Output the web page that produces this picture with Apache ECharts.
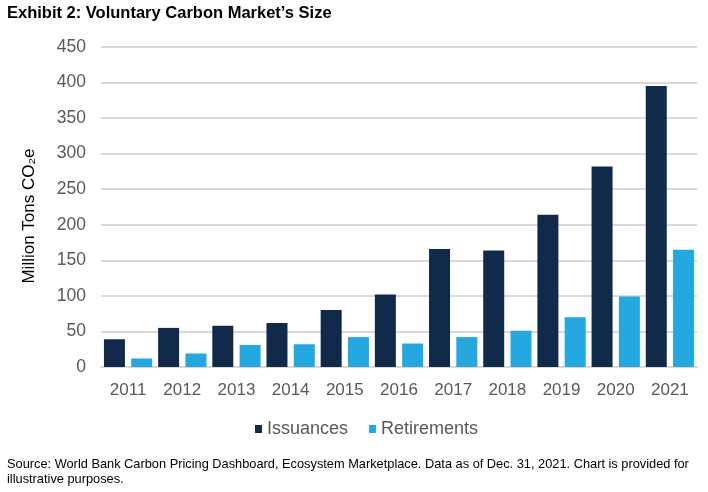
<!DOCTYPE html>
<html><head><meta charset="utf-8">
<script src="https://cdn.jsdelivr.net/npm/echarts@6/dist/echarts.min.js"></script>
<style>html,body{margin:0;padding:0;background:#fff}#c{width:708px;height:492px}</style>
</head><body><div id="c"></div>
<script>
var years = ['2011','2012','2013','2014','2015','2016','2017','2018','2019','2020','2021'];
var issuances = [39, 55, 58, 62, 80, 102, 166, 164, 214, 282, 395];
var retirements = [12, 19, 31, 32, 42, 33, 42, 51, 70, 99, 165];
var chart = echarts.init(document.getElementById('c'));
var F = '"Liberation Sans", Arial, sans-serif';
chart.setOption({
  animation: false,
  textStyle: {fontFamily: F},
  title: [{
    text: 'Exhibit 2: Voluntary Carbon Market\u2019s Size',
    left: 2, top: 0,
    textStyle: {fontFamily: F, fontWeight: 'bold', fontSize: 16.5, color: '#000'}
  }, {
    text: 'Source: World Bank Carbon Pricing Dashboard, Ecosystem Marketplace. Data as of Dec. 31, 2021. Chart is provided for\nillustrative purposes.',
    left: 2, top: 452,
    textStyle: {fontFamily: F, fontWeight: 'normal', fontSize: 12.8, color: '#000', lineHeight: 15}
  }],
  legend: {
    data: ['Issuances', 'Retirements'],
    top: 415, left: 250,
    itemWidth: 7, itemHeight: 8, itemGap: 21,
    icon: 'rect',
    textStyle: {fontFamily: F, fontSize: 18, color: '#595959'}
  },
  graphic: [{
    type: 'text', x: 29, y: 216, rotation: Math.PI / 2,
    style: {text: 'Million Tons CO\u2082e', font: '17px "Liberation Sans", Arial, sans-serif',
            fill: '#000', textAlign: 'center', textVerticalAlign: 'middle'}
  }],
  grid: {left: 101, right: 11, top: 47, bottom: 125},
  xAxis: {
    type: 'category', data: years,
    axisLine: {lineStyle: {color: '#d9d9d9', width: 2}},
    axisTick: {show: false},
    axisLabel: {fontFamily: F, fontSize: 17, color: '#595959', margin: 15}
  },
  yAxis: {
    type: 'value', min: 0, max: 450, interval: 50,
    axisLine: {show: false}, axisTick: {show: false},
    axisLabel: {fontFamily: F, fontSize: 17.5, color: '#595959', margin: 15},
    splitLine: {lineStyle: {color: '#d9d9d9', width: 2}}
  },
  series: [{
    name: 'Issuances', type: 'bar', data: issuances,
    barWidth: 21, barGap: '30%',
    itemStyle: {color: '#112a4a'}
  }, {
    name: 'Retirements', type: 'bar', data: retirements,
    barWidth: 21,
    itemStyle: {color: '#25a7e0'}
  }]
});
</script></body></html>
